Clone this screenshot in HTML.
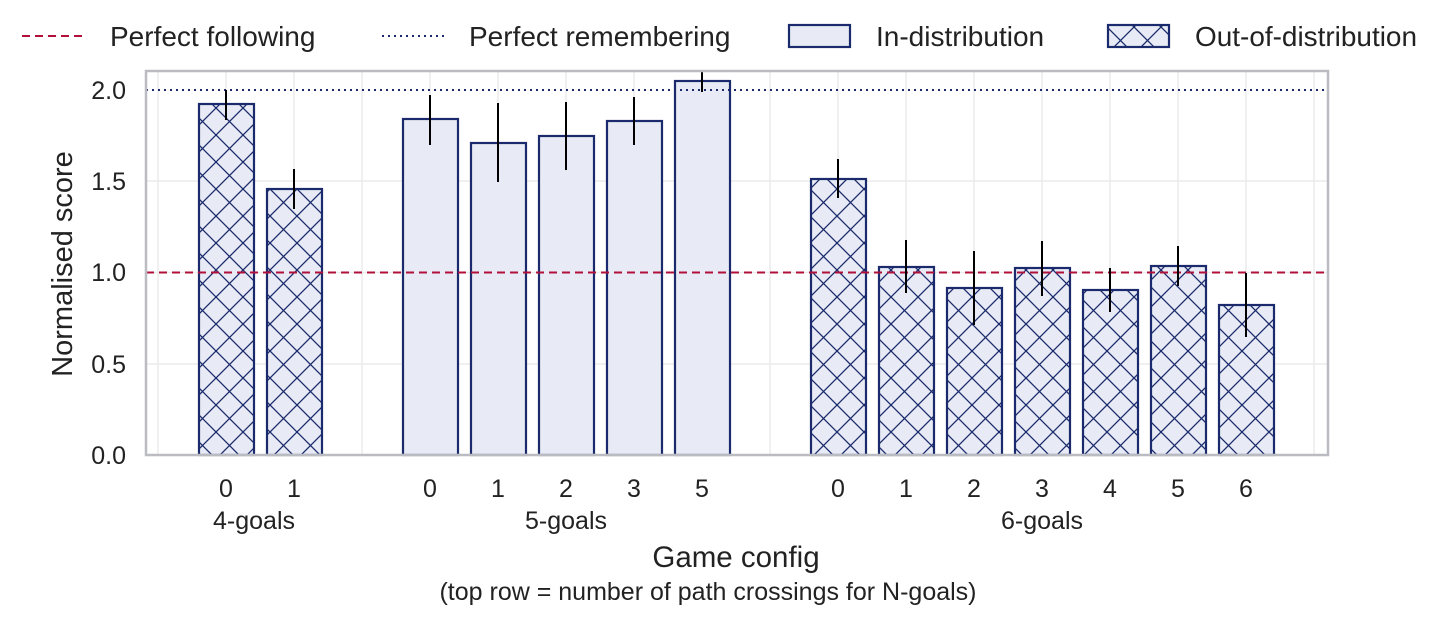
<!DOCTYPE html>
<html><head><style>body{margin:0;background:#fff}svg{display:block;font-family:"Liberation Sans",sans-serif}</style></head><body>
<svg width="1440" height="622" viewBox="0 0 1440 622">
<defs>
<pattern id="h" patternUnits="userSpaceOnUse" width="27" height="27" x="0" y="0">
<rect width="27" height="27" fill="#e8ebf5"/>
<path d="M0 0L27 27M27 0L0 27" stroke="#1a2a6c" stroke-width="1.3"/>
</pattern>
</defs>
<g stroke="#ececec" stroke-width="1.5">
<line x1="146" x2="1328" y1="364" y2="364"/><line x1="146" x2="1328" y1="181" y2="181"/><line x1="146" x2="1328" y1="272.5" y2="272.5"/>
<line x1="158" x2="158" y1="71" y2="455"/><line x1="226" x2="226" y1="71" y2="455"/><line x1="294" x2="294" y1="71" y2="455"/><line x1="362" x2="362" y1="71" y2="455"/><line x1="430" x2="430" y1="71" y2="455"/><line x1="498" x2="498" y1="71" y2="455"/><line x1="566" x2="566" y1="71" y2="455"/><line x1="634" x2="634" y1="71" y2="455"/><line x1="702" x2="702" y1="71" y2="455"/><line x1="770" x2="770" y1="71" y2="455"/><line x1="838" x2="838" y1="71" y2="455"/><line x1="906" x2="906" y1="71" y2="455"/><line x1="974" x2="974" y1="71" y2="455"/><line x1="1042" x2="1042" y1="71" y2="455"/><line x1="1110" x2="1110" y1="71" y2="455"/><line x1="1178" x2="1178" y1="71" y2="455"/><line x1="1246" x2="1246" y1="71" y2="455"/><line x1="1314" x2="1314" y1="71" y2="455"/>
</g>
<g stroke="#1a2a6c" stroke-width="2.2">
<rect x="199" y="104" width="55" height="351" fill="url(#h)"/>
<rect x="267" y="189" width="55" height="266" fill="url(#h)"/>
<rect x="403" y="119" width="55" height="336" fill="#e8ebf5"/>
<rect x="471" y="143" width="55" height="312" fill="#e8ebf5"/>
<rect x="539" y="136" width="55" height="319" fill="#e8ebf5"/>
<rect x="607" y="121" width="55" height="334" fill="#e8ebf5"/>
<rect x="675" y="81" width="55" height="374" fill="#e8ebf5"/>
<rect x="811" y="179" width="55" height="276" fill="url(#h)"/>
<rect x="879" y="267" width="55" height="188" fill="url(#h)"/>
<rect x="947" y="288" width="55" height="167" fill="url(#h)"/>
<rect x="1015" y="268" width="55" height="187" fill="url(#h)"/>
<rect x="1083" y="290" width="55" height="165" fill="url(#h)"/>
<rect x="1151" y="266" width="55" height="189" fill="url(#h)"/>
<rect x="1219" y="305" width="55" height="150" fill="url(#h)"/>
</g>
<line x1="146" x2="1328" y1="90" y2="90" stroke="#1a2a6c" stroke-width="2" stroke-dasharray="2,4"/>
<line x1="146" x2="1328" y1="272.5" y2="272.5" stroke="#b0103a" stroke-width="2" stroke-dasharray="8,5"/>
<g stroke="#000" stroke-width="2">
<line x1="226" x2="226" y1="90" y2="120"/><line x1="294" x2="294" y1="169" y2="209"/>
<line x1="430" x2="430" y1="95" y2="145"/><line x1="498" x2="498" y1="103" y2="182"/><line x1="566" x2="566" y1="102" y2="170"/><line x1="634" x2="634" y1="97" y2="145"/><line x1="702" x2="702" y1="70" y2="92"/>
<line x1="838" x2="838" y1="159" y2="198"/><line x1="906" x2="906" y1="240" y2="293"/><line x1="974" x2="974" y1="251" y2="325"/><line x1="1042" x2="1042" y1="241" y2="296"/><line x1="1110" x2="1110" y1="268" y2="312"/><line x1="1178" x2="1178" y1="246" y2="286"/><line x1="1246" x2="1246" y1="273" y2="337"/>
</g>
<rect x="146" y="71" width="1182" height="384" fill="none" stroke="#bbbcc2" stroke-width="2.5"/>
<g font-size="25" fill="#222" text-anchor="end">
<text x="126" y="99">2.0</text><text x="126" y="190">1.5</text><text x="126" y="281">1.0</text><text x="126" y="373">0.5</text><text x="126" y="464">0.0</text>
</g>
<g font-size="25" fill="#222" text-anchor="middle">
<text x="226" y="497">0</text><text x="294" y="497">1</text>
<text x="430" y="497">0</text><text x="498" y="497">1</text><text x="566" y="497">2</text><text x="634" y="497">3</text><text x="702" y="497">5</text>
<text x="838" y="497">0</text><text x="906" y="497">1</text><text x="974" y="497">2</text><text x="1042" y="497">3</text><text x="1110" y="497">4</text><text x="1178" y="497">5</text><text x="1246" y="497">6</text>
<text x="254" y="529">4-goals</text><text x="566" y="529">5-goals</text><text x="1042" y="529">6-goals</text>
<text x="736" y="567" font-size="29.5">Game config</text>
<text x="708" y="600" font-size="25">(top row = number of path crossings for N-goals)</text>
<text transform="translate(72 264) rotate(-90)" font-size="29">Normalised score</text>
</g>
<g font-size="28" fill="#222">
<line x1="22" x2="86" y1="36" y2="36" stroke="#b0103a" stroke-width="2" stroke-dasharray="8,5"/>
<text x="110" y="46">Perfect following</text>
<line x1="382" x2="446" y1="36" y2="36" stroke="#1a2a6c" stroke-width="2" stroke-dasharray="2,4"/>
<text x="469" y="46">Perfect remembering</text>
<rect x="789" y="25" width="61" height="22" fill="#e8ebf5" stroke="#1a2a6c" stroke-width="2.2"/>
<text x="876" y="46">In-distribution</text>
<rect x="1108" y="25" width="61" height="22" fill="url(#h)" stroke="#1a2a6c" stroke-width="2.2"/>
<text x="1195" y="46" textLength="222" lengthAdjust="spacingAndGlyphs">Out-of-distribution</text>
</g>
</svg>
</body></html>
